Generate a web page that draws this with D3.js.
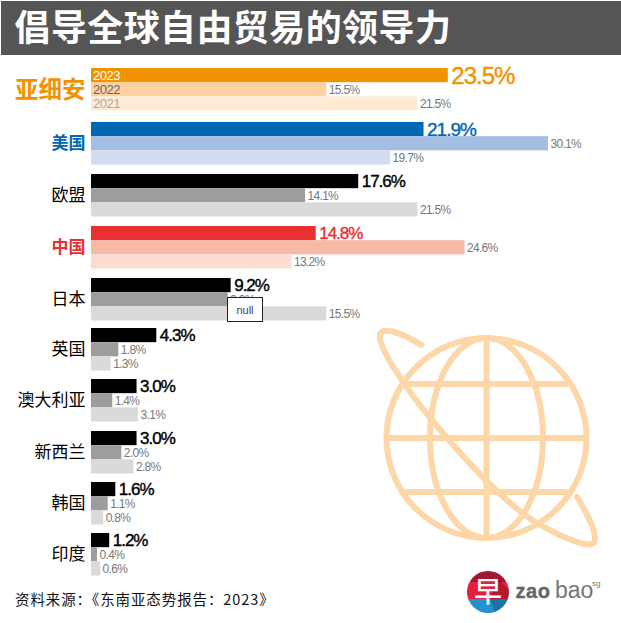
<!DOCTYPE html>
<html>
<head>
<meta charset="utf-8">
<script src="https://cdn.jsdelivr.net/npm/d3@7"></script>
<style>
html, body { margin: 0; padding: 0; background: #fff; }
svg { display: block; opacity: 0.999; }
text { font-family: "Liberation Sans", Arial, sans-serif; }
.cjk { font-family: "Noto Sans CJK SC", sans-serif; }
</style>
</head>
<body>
<svg id="chart" width="621" height="623"></svg>
<script>
var categories = ["亚细安", "美国", "欧盟", "中国", "日本", "英国", "澳大利亚", "新西兰", "韩国", "印度"];
var years = ["2023", "2022", "2021"];
var values2023 = [23.5, 21.9, 17.6, 14.8, 9.2, 4.3, 3.0, 3.0, 1.6, 1.2];
var values2022 = [15.5, 30.1, 14.1, 24.6, 9.0, 1.8, 1.4, 2.0, 1.1, 0.4];
var values2021 = [21.5, 19.7, 21.5, 13.2, 15.5, 1.3, 3.1, 2.8, 0.8, 0.6];

var orangeRamp = ["#f39200", "#fdd1a0", "#feead5"];
var blueRamp = ["#0067b1", "#a3bde3", "#d2ddf1"];
var greyRamp = ["#000000", "#9d9d9c", "#dadada"];
var redRamp = ["#e93033", "#f7b8a5", "#fcdcd0"];
var ramps = [orangeRamp, blueRamp, greyRamp, redRamp, greyRamp, greyRamp, greyRamp, greyRamp, greyRamp, greyRamp];

var labelColors = ["#f39200", "#0067b1", "#000", "#e93033", "#000", "#000", "#000", "#000", "#000", "#000"];
var labelSizes = [23.5, 17, 17, 17, 17, 17, 17, 17, 17, 17];
var valueSizes = [24, 19, 17, 17, 17, 17, 17, 17, 17, 17];
var rowTops = [68, 122, 174, 226, 278, 328, 379, 431, 482, 533];

var svg = d3.select("#chart");

/* title band */
svg.append("rect").attr("x", 1).attr("y", 1).attr("width", 620).attr("height", 54).attr("fill", "#555555");
svg.append("text").attr("class", "cjk")
    .attr("x", 14.5).attr("y", 41)
    .attr("font-size", 36).attr("letter-spacing", 0.4).attr("font-weight", 700).attr("fill", "#fff")
    .text("倡导全球自由贸易的领导力");

var x = d3.scaleLinear().domain([0, 30.1]).range([91, 548]);
var y = d3.scaleOrdinal().domain(categories).range(rowTops);
var inner = d3.scaleBand().domain(years).range([0, 42.5]);

/* globe, sits behind the bars */
var globe = svg.append("g")
    .attr("fill", "none").attr("stroke", "#fdd7a8").attr("stroke-width", 6).attr("stroke-linecap", "round");
globe.append("circle").attr("cx", 486.5).attr("cy", 438).attr("r", 100);
globe.append("ellipse").attr("cx", 486.5).attr("cy", 438).attr("rx", 56.5).attr("ry", 100);
globe.append("path").attr("d", "M486.5 338V538M407 384H566M389 438H584M407 492H566");
globe.append("path").attr("d", "M421.5 345C400 332 382 326 380 335C377 345 405 388 432 420C465 460 500 498 532 520C565 540 595 551 595 540C596 530 585 510 577 497");

var rows = svg.selectAll("g.row")
    .data(categories)
    .join("g")
    .attr("class", "row")
    .attr("transform", function(d) { return "translate(0," + y(d) + ")"; });

rows.append("text").attr("class", "cjk")
    .attr("x", 85.5)
    .attr("y", inner.bandwidth() * 1.5)
    .attr("dy", "0.36em")
    .attr("text-anchor", "end")
    .attr("font-size", function(d, i) { return labelSizes[i]; })
    .attr("font-weight", function(d, i) { return labelColors[i] === "#000" ? 400 : 700; })
    .attr("fill", function(d, i) { return labelColors[i]; })
    .text(function(d) { return d; });

var seriesList = [values2023, values2022, values2021];
seriesList.forEach(function(series, s) {
    rows.append("rect")
        .attr("x", x(0))
        .attr("y", inner(years[s]))
        .attr("width", function(d, i) { return x(series[i]) - x(0); })
        .attr("height", inner.bandwidth())
        .attr("fill", function(d, i) { return ramps[i][s]; });

    rows.append("text")
        .attr("x", function(d, i) { return x(series[i]) + (s === 0 ? 3.5 : 2.5); })
        .attr("y", inner(years[s]) + inner.bandwidth() / 2)
        .attr("dy", "0.36em")
        .attr("font-size", function(d, i) { return s === 0 ? valueSizes[i] : 12; })
        .attr("letter-spacing", s === 0 ? -1 : -0.7)
        .attr("stroke", function(d, i) { return s === 0 ? labelColors[i] : "none"; })
        .attr("stroke-width", 0.4)
        .attr("fill", function(d, i) { return s === 0 ? labelColors[i] : "#777"; })
        .text(function(d, i) { return series[i].toFixed(1) + "%"; });
});

/* year key inside the first group */
var yearColors = ["#fff", "#666", "#aaa"];
years.forEach(function(yr, s) {
    svg.append("text")
        .attr("x", 93)
        .attr("y", y(categories[0]) + inner(yr) + inner.bandwidth() / 2)
        .attr("dy", "0.36em")
        .attr("font-size", 13)
        .attr("letter-spacing", -0.5)
        .attr("fill", yearColors[s])
        .text(yr);
});

/* stray tooltip box over the Japan row */
svg.append("rect").attr("x", 227.5).attr("y", 297.5).attr("width", 35).attr("height", 24)
    .attr("fill", "#fff").attr("stroke", "#222").attr("stroke-width", 1);
svg.append("text").attr("x", 245).attr("y", 313.5).attr("text-anchor", "middle")
    .attr("font-family", "Roboto, sans-serif").attr("font-size", 11).attr("fill", "#3a3a7a").text("null");

/* source */
svg.append("text").attr("class", "cjk")
    .attr("x", 15).attr("y", 605)
    .attr("font-size", 14.5).attr("letter-spacing", 0.9).attr("fill", "#111")
    .text("资料来源：《东南亚态势报告：2023》");

/* zaobao logo */
var logo = svg.append("g");
var clip = svg.append("clipPath").attr("id", "logoClip");
clip.append("circle").attr("cx", 488).attr("cy", 592).attr("r", 21);
var logoBands = logo.append("g").attr("clip-path", "url(#logoClip)");
logoBands.append("rect").attr("x", 467).attr("y", 571).attr("width", 42).attr("height", 11).attr("fill", "#a4152f");
logoBands.append("rect").attr("x", 467).attr("y", 582).attr("width", 42).attr("height", 17).attr("fill", "#e3203f");
logoBands.append("rect").attr("x", 467).attr("y", 599).attr("width", 42).attr("height", 14).attr("fill", "#2392cf");
logoBands.append("path").attr("d", "M497 578L509 590V599H490Z").attr("fill", "#000").attr("opacity", 0.2);
logoBands.append("path").attr("d", "M490 599H509V613H495Z").attr("fill", "#000").attr("opacity", 0.2);
logo.append("text").attr("class", "cjk").attr("x", 488).attr("y", 601.5)
    .attr("text-anchor", "middle").attr("font-size", 28).attr("font-weight", 500).attr("fill", "#fff").text("早");
logo.append("text").attr("x", 515.5).attr("y", 597.5)
    .attr("font-family", "DejaVu Sans, sans-serif").attr("font-size", 20).attr("font-weight", 700)
    .attr("letter-spacing", 0.6)
    .attr("stroke", "#666").attr("stroke-width", 0.4)
    .attr("fill", "#666").text("zao");
logo.append("text").attr("x", 555).attr("y", 597.5)
    .attr("font-family", "Lato, sans-serif").attr("font-size", 23).attr("font-weight", 300)
    .attr("fill", "#777").text("bao");
logo.append("text").attr("x", 592).attr("y", 586)
    .attr("font-size", 8).attr("fill", "#777").text("sg");
</script>
</body>
</html>
